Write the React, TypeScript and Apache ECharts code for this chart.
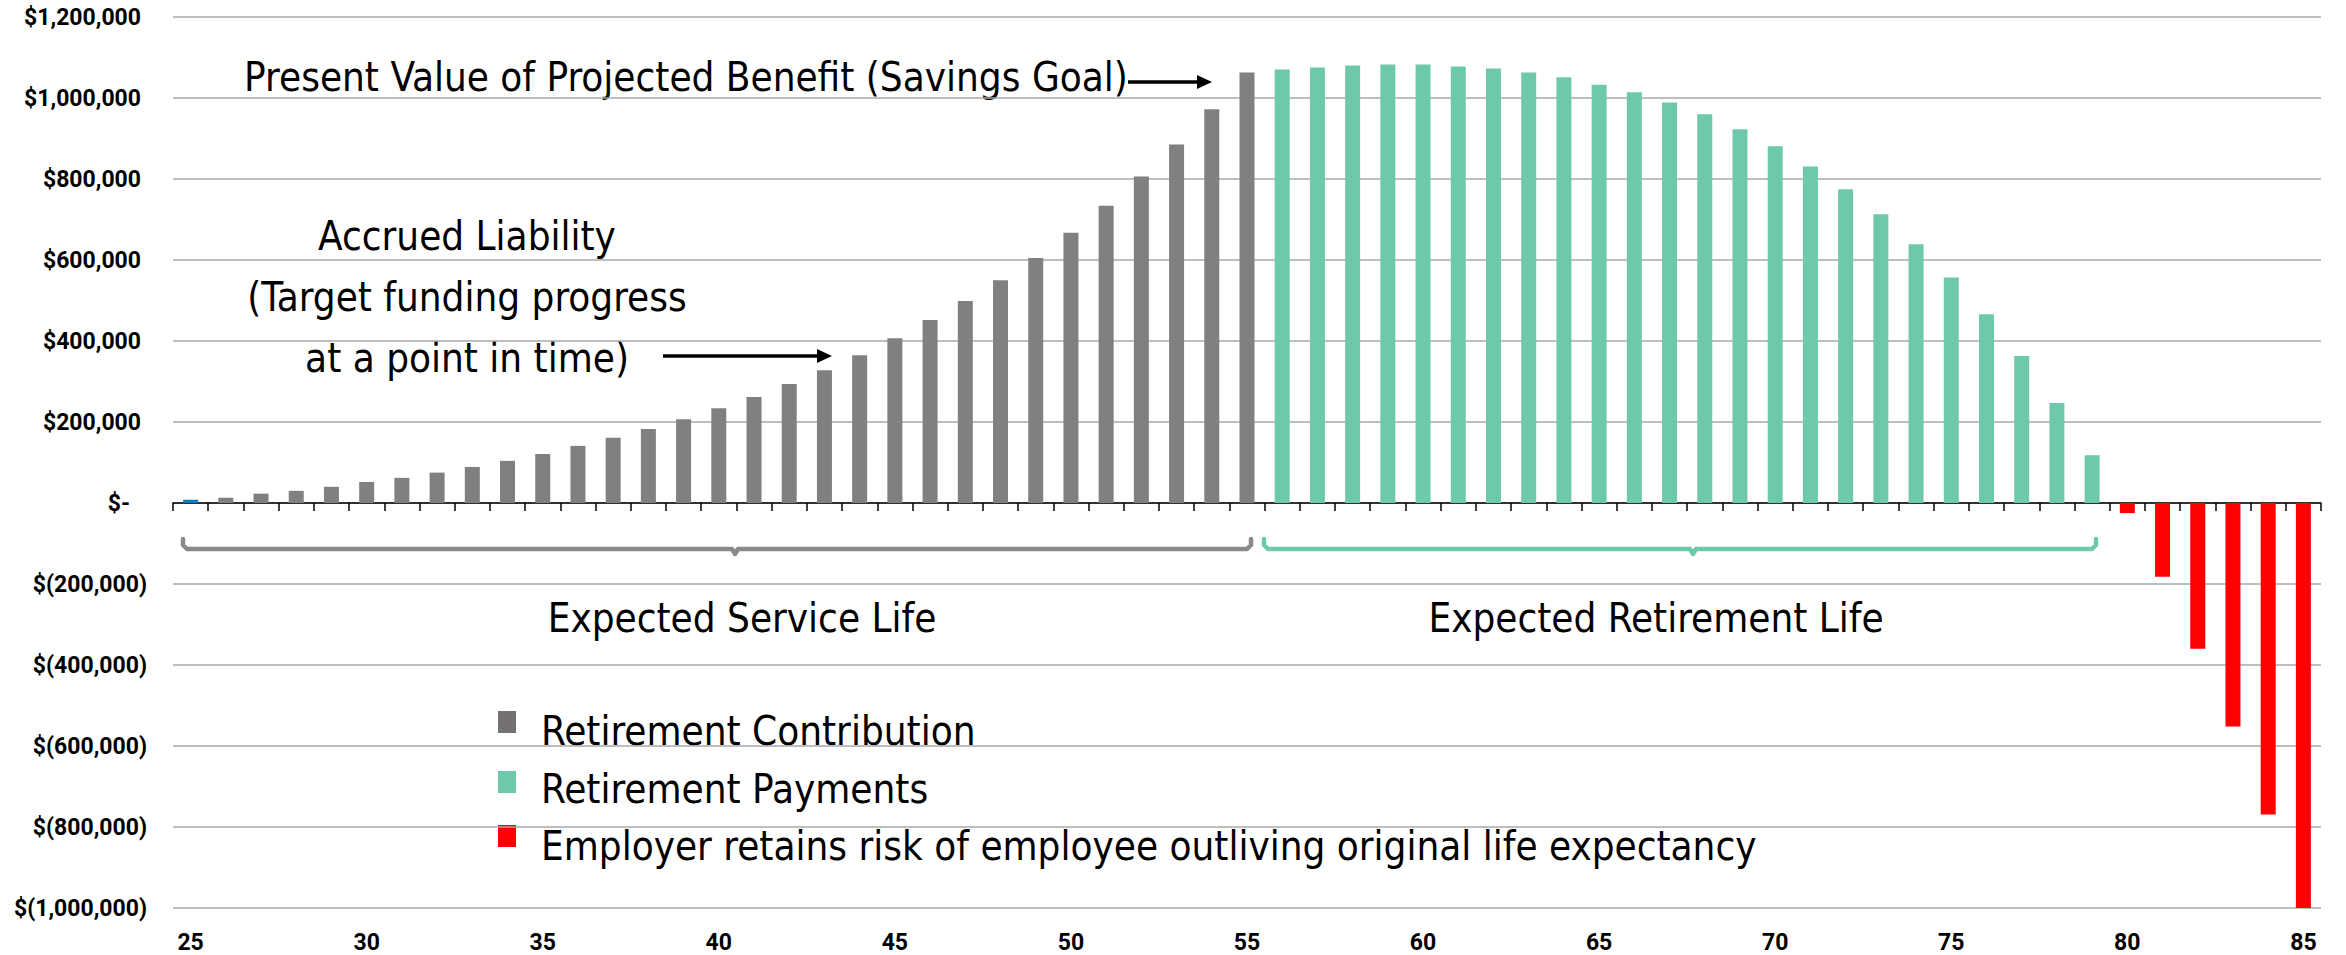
import React, { useEffect, useRef } from "react";
import * as echarts from "echarts";

// ---------- data ----------
const ages = [
  "25", "26", "27", "28", "29", "30", "31", "32", "33", "34",
  "35", "36", "37", "38", "39", "40", "41", "42", "43", "44",
  "45", "46", "47", "48", "49", "50", "51", "52", "53", "54",
  "55", "56", "57", "58", "59", "60", "61", "62", "63", "64",
  "65", "66", "67", "68", "69", "70", "71", "72", "73", "74",
  "75", "76", "77", "78", "79", "80", "81", "82", "83", "84", "85",
];

// ages 25 – 55
const contribution = [
  8000, 13000, 23000, 30000, 40000, 52000, 62000, 75000, 89000, 104000,
  121000, 141000, 161000, 183000, 207000, 234000, 262000, 294000, 328000, 365000,
  407000, 452000, 499000, 550000, 605000, 667000, 734000, 806000, 885000, 972000,
  1063000,
];

// ages 56 – 79
const payments = [
  1070500, 1075500, 1080000, 1083000, 1083000, 1078000, 1073000, 1063000,
  1051000, 1033000, 1014000, 989000, 960000, 923000, 881000, 831000,
  775000, 713000, 639000, 557000, 466000, 363000, 247000, 118000,
];

// ages 80 – 85
const risk = [-25000, -182000, -360000, -552000, -769000, -1000000];

const seriesNames = [
  "Retirement Contribution",
  "Retirement Payments",
  "Employer retains risk of employee outliving original life expectancy",
];

const yMin = -1000000;
const yMax = 1200000;
const yInterval = 200000;

// ---------- styles ----------
const W = 2346;
const H = 955;
const GRAY = "#808080";
const LEGEND_GRAY = "#767171";
const TEAL = "#6DC9AA";
const RED = "#FF0000";
const BLUE = "#1178BE";
const TEXT_FONT = '"Liberation Sans Narrow", "Arial Narrow", "DejaVu Sans Condensed", sans-serif';
const AXIS_FONT = 'Roboto, "Open Sans", sans-serif';

function pad(values: number[], startAge: number): (number | null | object)[] {
  const out: (number | null | object)[] = ages.map(() => null);
  const startIdx = ages.indexOf(String(startAge));
  values.forEach((v, i) => {
    out[startIdx + i] = v;
  });
  return out;
}

function fmtY(v: number): string {
  const abs = Math.abs(v).toLocaleString("en-US");
  if (v > 0) return `{p|$${abs}}`;
  if (v === 0) return `{z|$-}`;
  return `{n|$(${abs})}`;
}

function bracket(x0: number, x1: number, xm: number, color: string) {
  const yl = 549;
  return {
    type: "polyline",
    silent: true,
    shape: {
      points: [
        [x0, 539],
        [x0, 545],
        [x0 + 4, yl],
        [xm - 3, yl],
        [xm, yl + 5],
        [xm + 3, yl],
        [x1 - 4, yl],
        [x1, 545],
        [x1, 539],
      ],
    },
    style: { stroke: color, lineWidth: 4.5, fill: null, lineJoin: "round", lineCap: "round" },
  };
}

function arrow(x0: number, x1: number, y: number) {
  return [
    {
      type: "line",
      silent: true,
      shape: { x1: x0, y1: y, x2: x1 - 12, y2: y },
      style: { stroke: "#000", lineWidth: 3.5 },
    },
    {
      type: "polygon",
      silent: true,
      shape: { points: [[x1 - 15, y - 7], [x1, y], [x1 - 15, y + 7]] },
      style: { fill: "#000" },
    },
  ];
}

function label(text: string, x: number, y: number, lineHeight?: number, align?: string) {
  return {
    type: "text",
    silent: true,
    x,
    y,
    style: {
      text,
      fill: "#000",
      fontSize: 40,
      fontFamily: TEXT_FONT,
      lineHeight: lineHeight || 44,
      textAlign: align || "center",
      textVerticalAlign: "middle",
      align: align || "center",
      verticalAlign: "middle",
    },
  };
}

function legendItem(name: string, color: string, iconTop: number, textY: number) {
  return [
    {
      type: "rect",
      silent: true,
      shape: { x: 498, y: iconTop, width: 18, height: 22 },
      style: { fill: color },
    },
    label(name, 541, textY, 44, "left"),
  ];
}

const axisText = { fontSize: 23, fontWeight: "bold", fontFamily: AXIS_FONT, color: "#000" };

export default function App() {
  const ref = useRef<HTMLDivElement>(null);

  useEffect(() => {
    if (!ref.current) return;
    const chart = echarts.init(ref.current, null, { renderer: "svg" });

    const contribData = pad(contribution, 25);
    contribData[0] = { value: contribution[0], itemStyle: { color: BLUE } };

    const option: any = {
      animation: false,
      backgroundColor: "#ffffff",
      grid: { left: 173, right: 25, top: 17, bottom: 47, containLabel: false },
      legend: { show: false },
      xAxis: [
        {
          type: "category",
          data: ages,
          position: "bottom",
          axisLine: { show: true, onZero: true, lineStyle: { color: "#000", width: 1.5 } },
          axisTick: { show: true, interval: 0, length: 8, lineStyle: { color: "#000", width: 1.5 } },
          axisLabel: { show: false },
          splitLine: { show: false },
        },
        {
          type: "category",
          data: ages,
          position: "bottom",
          axisLine: { show: false, onZero: false },
          axisTick: { show: false },
          axisLabel: {
            show: true,
            interval: 4,
            margin: 23,
            ...axisText,
          },
          splitLine: { show: false },
        },
      ],
      yAxis: {
        type: "value",
        min: yMin,
        max: yMax,
        interval: yInterval,
        axisLine: { show: false },
        axisTick: { show: false },
        splitLine: { show: true, lineStyle: { color: "#A8A8A8", width: 1.5 } },
        axisLabel: {
          margin: 26,
          formatter: fmtY,
          ...axisText,
          rich: {
            p: { ...axisText, padding: [0, 6, 0, 0] },
            z: { ...axisText, padding: [0, 17, 0, 0] },
            n: { ...axisText },
          },
        },
      },
      series: [
        {
          name: seriesNames[0],
          type: "bar",
          xAxisIndex: 0,
          data: contribData,
          barWidth: 15,
          barGap: "-100%",
          itemStyle: { color: GRAY },
        },
        {
          name: seriesNames[1],
          type: "bar",
          xAxisIndex: 0,
          data: pad(payments, 56),
          barWidth: 15,
          barGap: "-100%",
          itemStyle: { color: TEAL },
        },
        {
          name: seriesNames[2],
          type: "bar",
          xAxisIndex: 0,
          data: pad(risk, 80),
          barWidth: 15,
          barGap: "-100%",
          itemStyle: { color: RED },
        },
      ],
      graphic: {
        elements: [
          label("Present Value of Projected Benefit (Savings Goal)", 686, 77),
          ...arrow(1128, 1212, 82),
          label("Accrued Liability\n(Target funding progress\nat a point in time)", 467, 297, 61),
          ...arrow(663, 832, 356),
          bracket(183, 1251, 735, "#8A8A8A"),
          bracket(1264, 2096, 1693, TEAL),
          label("Expected Service Life", 742, 618),
          label("Expected Retirement Life", 1656, 618),
          ...legendItem(seriesNames[0], LEGEND_GRAY, 711, 731),
          ...legendItem(seriesNames[1], TEAL, 771, 789),
          ...legendItem(seriesNames[2], RED, 825, 846),
        ],
      },
    };

    chart.setOption(option);
    return () => chart.dispose();
  }, []);

  return (
    <div
      ref={ref}
      style={{ position: "fixed", left: 0, top: 0, width: W, height: H, background: "#fff" }}
    />
  );
}
